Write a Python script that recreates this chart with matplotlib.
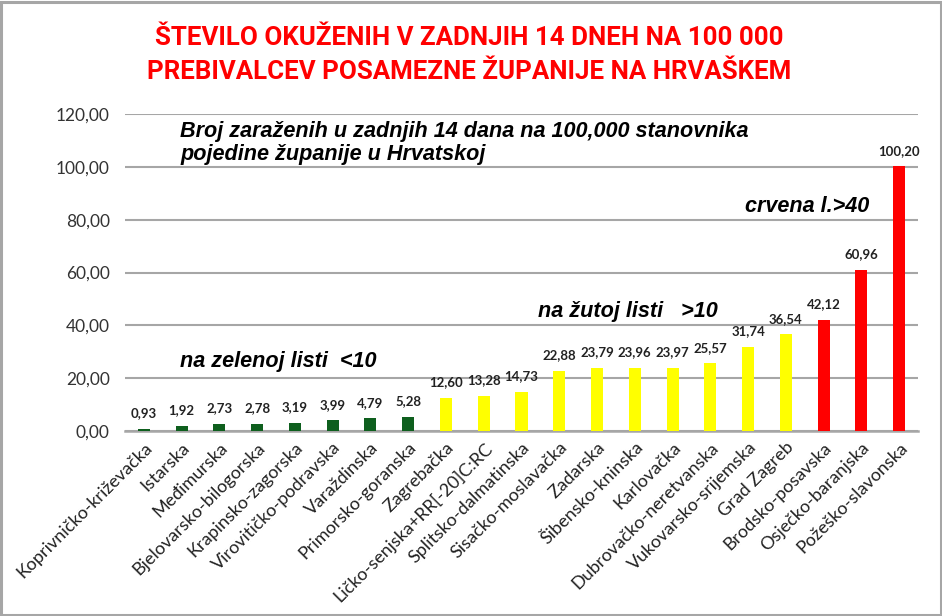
import matplotlib
matplotlib.use("Agg")
import matplotlib.pyplot as plt
from matplotlib.patches import Rectangle

counties = ["Koprivničko-križevačka", "Istarska", "Međimurska", "Bjelovarsko-bilogorska",
            "Krapinsko-zagorska", "Virovitičko-podravska", "Varaždinska", "Primorsko-goranska",
            "Zagrebačka", "Ličko-senjska+RR[-20]C:RC", "Splitsko-dalmatinska", "Sisačko-moslavačka",
            "Zadarska", "Šibensko-kninska", "Karlovačka", "Dubrovačko-neretvanska",
            "Vukovarsko-srijemska", "Grad Zagreb", "Brodsko-posavska", "Osječko-baranjska",
            "Požeško-slavonska"]
values = [0.93, 1.92, 2.73, 2.78, 3.19, 3.99, 4.79, 5.28,
          12.60, 13.28, 14.73, 22.88, 23.79, 23.96, 23.97, 25.57,
          31.74, 36.54, 42.12, 60.96, 100.20]
y_ticks = [0, 20, 40, 60, 80, 100, 120]

GREEN, YELLOW, RED = "#0e5f1e", "#ffff00", "#ff0000"
colors = [GREEN if v < 10 else (YELLOW if v < 40 else RED) for v in values]

def fmt(v):
    return f"{v:.2f}".replace(".", ",")

W, H = 942, 616
fig = plt.figure(figsize=(W / 100, H / 100), dpi=100)
fig.patch.set_facecolor("white")
# outer border
fig.add_artist(Rectangle((0.0015, 0.002), 0.997, 0.995, transform=fig.transFigure,
                         fill=False, edgecolor="#a6a6a6", linewidth=2.2))

ax = fig.add_axes([125 / W, 1 - 431 / H, (918 - 125) / W, (431 - 114) / H])
x = list(range(len(values)))
ax.bar(x, values, width=0.32, color=colors, zorder=3)
ax.set_xlim(-0.5, len(values) - 0.5)
ax.set_ylim(0, 120)
ax.set_yticks(y_ticks)
ax.set_yticklabels([fmt(t) for t in y_ticks], fontfamily="Lato", fontsize=12.5, color="#333333")
ax.set_xticks(x)
ax.set_xticklabels(counties, rotation=45, ha="right", va="top", rotation_mode="anchor",
                   fontfamily="Lato", fontsize=13, color="#222222")
ax.tick_params(axis="y", length=0, pad=11)
ax.tick_params(axis="x", length=0, pad=6)
ax.grid(axis="y", color="#a6a6a6", linewidth=1.5, zorder=0)
for s in ["top", "right", "left"]:
    ax.spines[s].set_visible(False)
ax.spines["bottom"].set_color("#a6a6a6")
ax.spines["bottom"].set_linewidth(1.8)

for xi, v in zip(x, values):
    ax.annotate(fmt(v), (xi, v), xytext=(0, 7), textcoords="offset points",
                ha="center", va="bottom", fontsize=9.5, fontweight="bold",
                fontfamily="Lato", color="#222222")

note_kw = dict(fontfamily="Liberation Sans", fontstyle="italic", fontweight="bold",
               color="black", transform=fig.transFigure, va="center", ha="left")
fig.text(180 / W, 1 - 143 / H, "Broj zaraženih u zadnjih 14 dana na 100,000 stanovnika\npojedine županije u Hrvatskoj",
         fontsize=15.6, linespacing=1.15, **note_kw)
fig.text(180 / W, 1 - 362 / H, "na zelenoj listi  <10", fontsize=15.6, **note_kw)
fig.text(538 / W, 1 - 311 / H, "na žutoj listi   >10", fontsize=15.6, **note_kw)
fig.text(745 / W, 1 - 207 / H, "crvena l.>40", fontsize=15.6, **note_kw)

title_kw = dict(fontsize=18.6, fontweight="bold", color="#ff0000", ha="center", va="center",
                fontfamily=["Liberation Sans Narrow", "Roboto"])
fig.text(469 / W, 1 - 38 / H, "ŠTEVILO OKUŽENIH V ZADNJIH 14 DNEH NA 100 000", **title_kw)
fig.text(469 / W, 1 - 72 / H, "PREBIVALCEV POSAMEZNE ŽUPANIJE NA HRVAŠKEM", **title_kw)

fig.savefig("out.png", dpi=100)
